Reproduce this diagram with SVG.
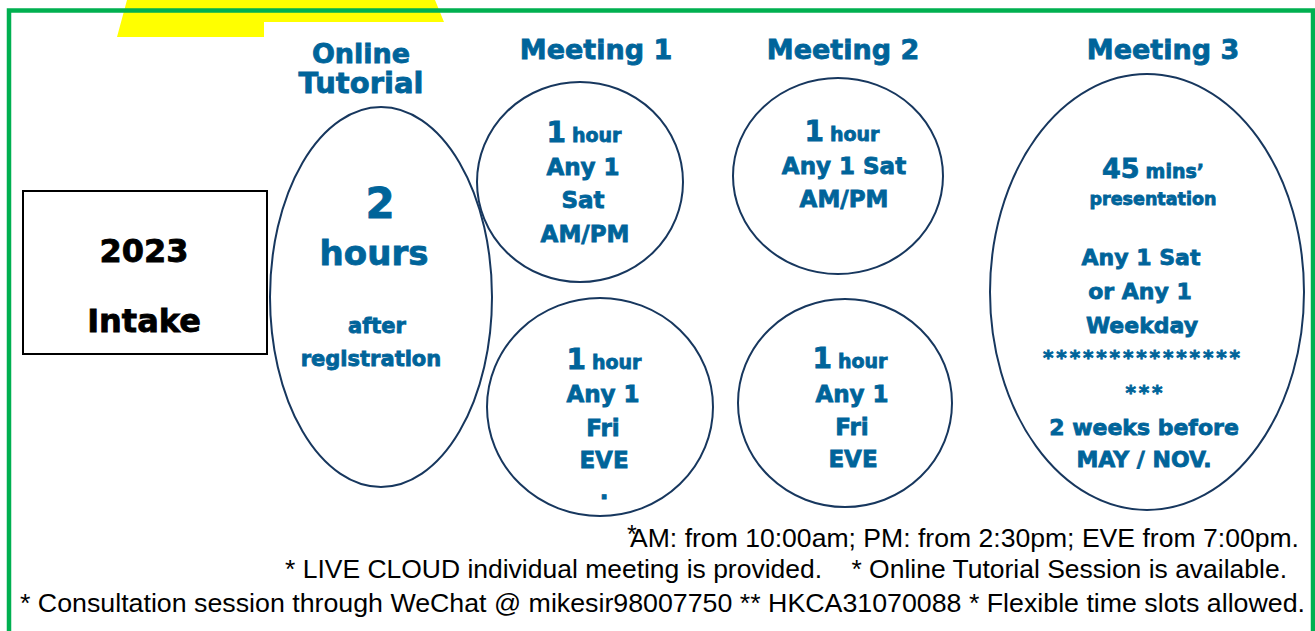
<svg xmlns="http://www.w3.org/2000/svg" width="1315" height="631" viewBox="0 0 1315 631">
<style>
.bg{fill:#ffffff}
.oval{fill:#ffffff;stroke:#17375e;stroke-width:2}
.h{font-family:"DejaVu Sans","Liberation Sans",sans-serif;font-weight:bold;fill:#00649a;stroke:#00649a;stroke-width:0.8;text-anchor:middle}
.k{font-family:"DejaVu Sans","Liberation Sans",sans-serif;font-weight:bold;fill:#000;stroke:#000;stroke-width:0.8;text-anchor:middle;font-size:32px}
.note{font-family:"Liberation Sans",Arial,sans-serif;fill:#000000;font-size:25px}
</style>
<rect class="bg" x="0" y="0" width="1315" height="631"/>
<polygon points="117,37 127,0 435,0 444,22 264,22 264,37" fill="#ffff00"/>
<rect x="9" y="10.5" width="1304" height="640" fill="none" stroke="#00b050" stroke-width="4.5"/>

<g id="intake">
<rect x="23" y="191" width="244" height="163" fill="#ffffff" stroke="#000000" stroke-width="2"/>
<text class="k" x="144" y="262">2023</text>
<text class="k" x="144" y="332">Intake</text>
</g>

<g id="online-tutorial">
<text class="h" x="361" y="63" font-size="27">Online</text>
<text class="h" x="361" y="93" font-size="29">Tutorial</text>
<ellipse class="oval" cx="381" cy="297" rx="111" ry="190"/>
<text class="h" x="380" y="218" font-size="42">2</text>
<text class="h" x="374" y="265" font-size="34">hours</text>
<text class="h" x="377" y="333" font-size="21">after</text>
<text class="h" x="371" y="366" font-size="21">registration</text>
</g>

<g id="meeting1">
<text class="h" x="596" y="59" font-size="27">Meeting 1</text>
<ellipse class="oval" cx="580" cy="182" rx="103" ry="100"/>
<text class="h" x="584" y="142"><tspan font-size="28">1</tspan><tspan font-size="19" dx="6">hour</tspan></text>
<text class="h" x="583" y="175" font-size="23">Any 1</text>
<text class="h" x="583" y="208" font-size="23">Sat</text>
<text class="h" x="585" y="242" font-size="23">AM/PM</text>
</g>

<g id="meeting1-eve">
<ellipse class="oval" cx="600" cy="407" rx="113" ry="109"/>
<text class="h" x="604" y="369"><tspan font-size="28">1</tspan><tspan font-size="19" dx="6">hour</tspan></text>
<text class="h" x="603" y="402" font-size="23">Any 1</text>
<text class="h" x="603" y="436" font-size="23">Fri</text>
<text class="h" x="604" y="468" font-size="23">EVE</text>
<text class="h" x="604" y="499" font-size="23">.</text>
</g>

<g id="meeting2">
<text class="h" x="843" y="59" font-size="27">Meeting 2</text>
<ellipse class="oval" cx="838" cy="176" rx="105" ry="98"/>
<text class="h" x="842" y="141"><tspan font-size="28">1</tspan><tspan font-size="19" dx="6">hour</tspan></text>
<text class="h" x="844" y="174" font-size="23">Any 1 Sat</text>
<text class="h" x="844" y="207" font-size="23">AM/PM</text>
</g>

<g id="meeting2-eve">
<ellipse class="oval" cx="845" cy="403" rx="107" ry="104"/>
<text class="h" x="850" y="368"><tspan font-size="28">1</tspan><tspan font-size="19" dx="6">hour</tspan></text>
<text class="h" x="852" y="402" font-size="23">Any 1</text>
<text class="h" x="852" y="435" font-size="23">Fri</text>
<text class="h" x="853" y="467" font-size="23">EVE</text>
</g>

<g id="meeting3">
<text class="h" x="1163" y="59" font-size="27">Meeting 3</text>
<ellipse class="oval" cx="1147" cy="292" rx="157" ry="218"/>
<text class="h" x="1153" y="178"><tspan font-size="27">45</tspan><tspan font-size="19" dx="6">mins’</tspan></text>
<text class="h" x="1153" y="205" font-size="17.5">presentation</text>
<text class="h" x="1141" y="265" font-size="22">Any 1 Sat</text>
<text class="h" x="1140" y="299" font-size="22">or Any 1</text>
<text class="h" x="1142" y="333" font-size="22">Weekday</text>
<text class="h" x="1141.5" y="364" font-size="20" textLength="197" lengthAdjust="spacing">***************</text>
<text class="h" x="1144" y="399" font-size="20" textLength="37" lengthAdjust="spacing">***</text>
<text class="h" x="1144" y="435" font-size="22">2 weeks before</text>
<text class="h" x="1144" y="467" font-size="22">MAY / NOV.</text>
</g>

<g id="notes">
<text class="note" x="627" y="543" font-size="18">*</text>
<text class="note" x="630" y="547" textLength="669" lengthAdjust="spacingAndGlyphs">AM: from 10:00am; PM: from 2:30pm; EVE from 7:00pm.</text>
<text class="note" x="285" y="578" textLength="1002" lengthAdjust="spacingAndGlyphs" xml:space="preserve">* LIVE CLOUD individual meeting is provided.    * Online Tutorial Session is available.</text>
<text class="note" x="20" y="612" textLength="1285" lengthAdjust="spacingAndGlyphs">* Consultation session through WeChat @ mikesir98007750 ** HKCA31070088 * Flexible time slots allowed.</text>
</g>
</svg>
